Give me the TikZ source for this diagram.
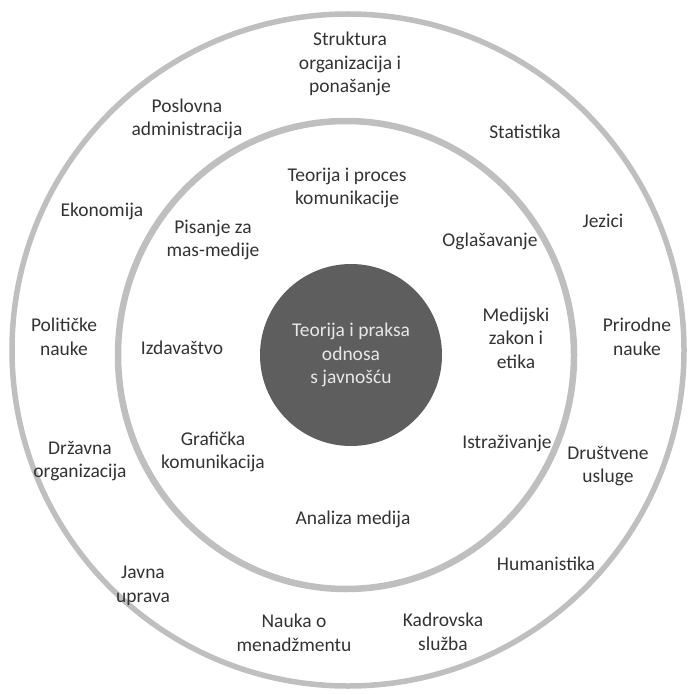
\documentclass[tikz,border=0pt]{standalone}
\usepackage{fontspec}
\setmainfont{Carlito}
\definecolor{ringgray}{HTML}{BFBFBF}
\definecolor{coregray}{HTML}{5E5E5E}
\definecolor{labeltext}{HTML}{333333}
\definecolor{coretext}{HTML}{E8E8E8}
\tikzset{
  ring/.style={draw=ringgray},
  lbl/.style={align=center, text=labeltext, inner sep=0pt,
    font=\fontsize{19.5}{23.5}\selectfont},
  corelbl/.style={lbl, text=coretext}
}
\begin{document}
\begin{tikzpicture}[x=1pt,y=-1pt]
\useasboundingbox (0,0) rectangle (689,695);
% rings
\draw[ring, line width=5.5pt] (348,350) circle [radius=336];
\draw[ring, line width=6.5pt] (346,355) ellipse [x radius=228, y radius=234];
\fill[coregray] (351,355) circle [radius=91];
% core
\node[corelbl] (core) at (351,355) {Teorija i praksa\\odnosa\\s javnošću};
% inner ring
\node[lbl] (tpk) at (347,188) {Teorija i proces\\komunikacije};
\node[lbl] (pis) at (213,240) {Pisanje za\\mas-medije};
\node[lbl] (ogl) at (490,241) {Oglašavanje};
\node[lbl] (izd) at (182,348) {Izdavaštvo};
\node[lbl] (med) at (516,338) {Medijski\\zakon i\\etika};
\node[lbl] (gra) at (213,452) {Grafička\\komunikacija};
\node[lbl] (ist) at (507,443) {Istraživanje};
\node[lbl] (ana) at (353,519) {Analiza medija};
% outer ring
\node[lbl] (str) at (350,64) {Struktura\\organizacija i\\ponašanje};
\node[lbl] (pos) at (187,119) {Poslovna\\administracija};
\node[lbl] (sta) at (525,132) {Statistika};
\node[lbl] (jez) at (603,221) {Jezici};
\node[lbl] (eko) at (102,211) {Ekonomija};
\node[lbl] (pol) at (64,337) {Političke\\nauke};
\node[lbl] (pri) at (637,337) {Prirodne\\nauke};
\node[lbl] (drz) at (80,461) {Državna\\organizacija};
\node[lbl] (dru) at (608,466) {Društvene\\usluge};
\node[lbl] (jav) at (143,586) {Javna\\uprava};
\node[lbl] (hum) at (546,564) {Humanistika};
\node[lbl] (nau) at (294,633) {Nauka o\\menadžmentu};
\node[lbl] (kad) at (443,632) {Kadrovska\\služba};
\end{tikzpicture}
\end{document}
